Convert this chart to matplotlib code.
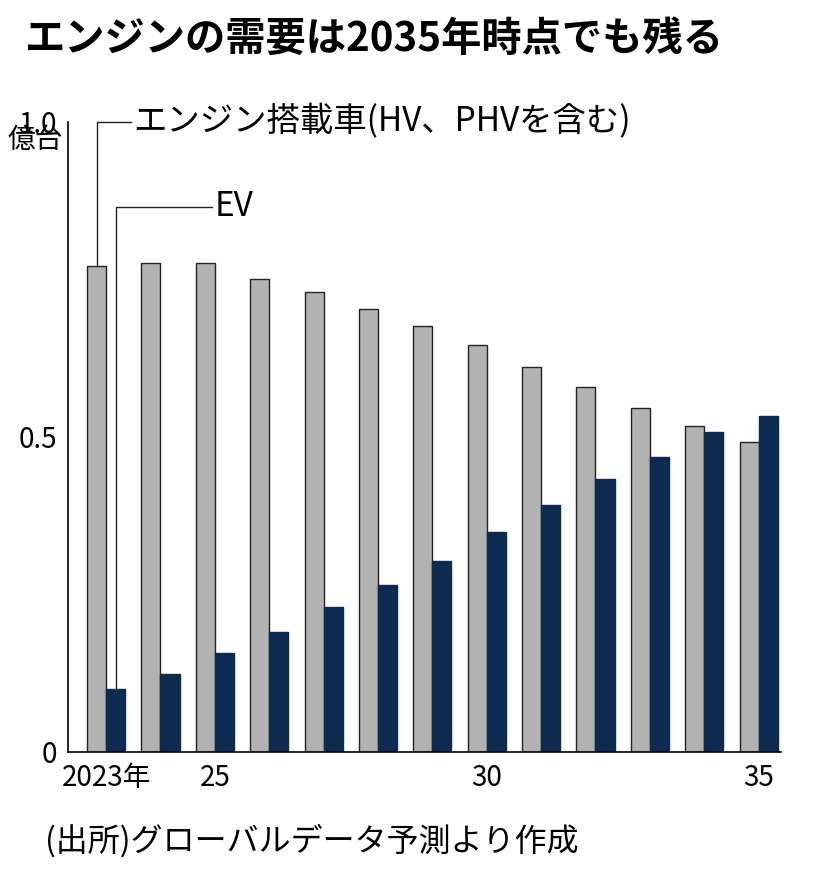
import matplotlib.pyplot as plt
import numpy as np

plt.rcParams['font.family'] = 'Noto Sans CJK JP'

# 年次と需要(億台)
years = [2023, 2024, 2025, 2026, 2027, 2028, 2029, 2030, 2031, 2032, 2033, 2034, 2035]
engine = [0.771, 0.775, 0.775, 0.751, 0.729, 0.702, 0.676, 0.646, 0.610, 0.579, 0.546, 0.517, 0.492]
ev = [0.100, 0.124, 0.156, 0.190, 0.230, 0.265, 0.303, 0.348, 0.392, 0.432, 0.468, 0.508, 0.533]
tick_years = [2023, 2025, 2030, 2035]
tick_labels = ['2023年', '25', '30', '35']

fig = plt.figure(figsize=(8.2, 8.76), dpi=100)
ax = fig.add_axes([0.083, 0.142, 0.87, 0.755])

x = np.array(years)
w = 0.35
ax.bar(x - w / 2, engine, w, color='#b2b2b2', edgecolor='#222222', linewidth=1)
ax.bar(x + w / 2, ev, w, color='#0d2a4f', edgecolor='#0d2a4f', linewidth=1)

ax.set_xlim(2022.3, 2035.42)
ax.set_ylim(0, 1.05)
for s in ['top', 'right']:
    ax.spines[s].set_visible(False)
ax.spines['left'].set_bounds(0, 1.0)
ax.spines['left'].set_linewidth(1.2)
ax.spines['bottom'].set_linewidth(1.2)
ax.set_yticks([0, 0.5, 1.0])
ax.set_yticklabels(['0', '0.5', '1.0'], fontsize=20)
ax.set_xticks(tick_years)
ax.set_xticklabels(tick_labels, fontsize=20)
ax.tick_params(length=0, pad=8)
ax.text(-0.085, 0.925, '億台', transform=ax.transAxes, fontsize=20, ha='left', va='center')

# 凡例の引き出し線
ax.plot([years[0] - w / 2, years[0] - w / 2, years[0] + 0.45], [engine[0], 1.0, 1.0], color='#222222', lw=1)
ax.text(years[0] + 0.5, 1.0, 'エンジン搭載車(HV、PHVを含む)', fontsize=24, va='center')
ax.plot([years[0] + w / 2, years[0] + w / 2, years[0] + 1.95], [ev[0], 0.865, 0.865], color='#222222', lw=1)
ax.text(years[0] + 2.0, 0.865, 'EV', fontsize=24, va='center')

fig.text(0.03, 0.955, 'エンジンの需要は2035年時点でも残る', fontsize=29, fontweight='bold', va='center')
fig.text(0.055, 0.04, '(出所)グローバルデータ予測より作成', fontsize=23, va='center')

fig.savefig('out.png')
